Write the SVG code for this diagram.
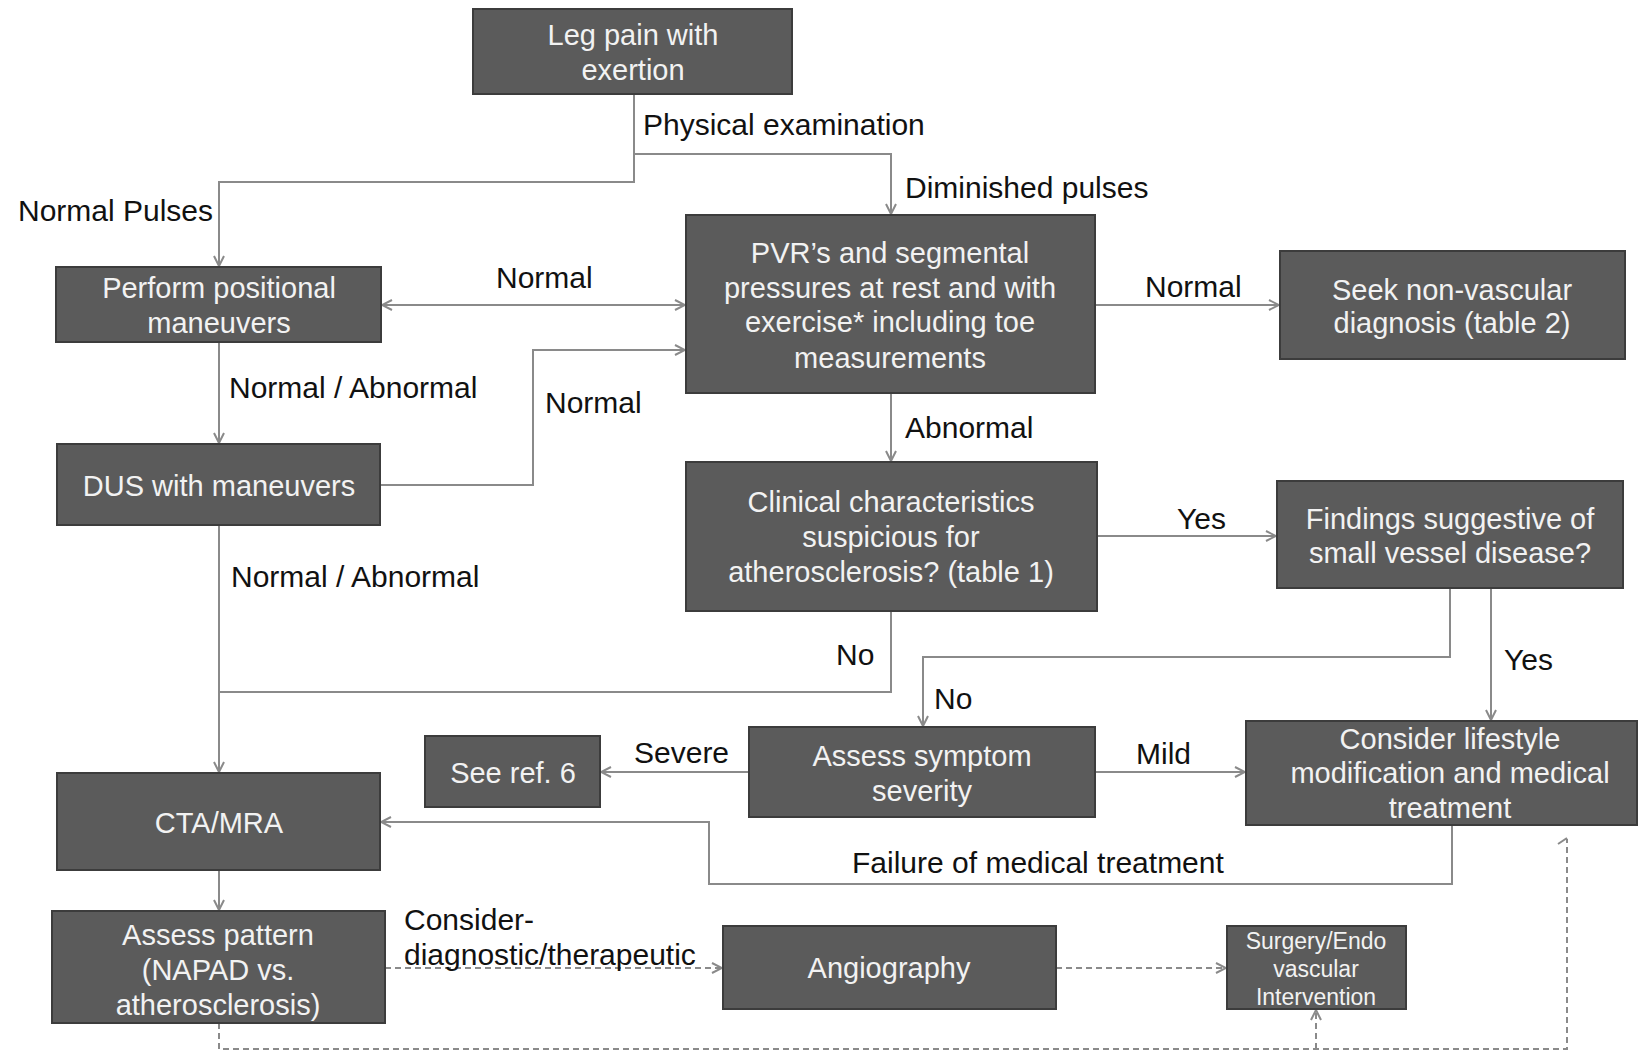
<svg xmlns="http://www.w3.org/2000/svg" width="1640" height="1051" viewBox="0 0 1640 1051">
<style>
.box{fill:#5b5b5b;stroke:#3c3c3c;stroke-width:2}
.bt{font-family:"Liberation Sans",Arial,sans-serif;font-size:29px;fill:#f2f2f2;text-anchor:middle}
.sm{font-size:23px}
.lb{font-family:"Liberation Sans",Arial,sans-serif;font-size:30px;fill:#111}
.c{fill:none;stroke:#8a8a8a;stroke-width:2}
.d{stroke-dasharray:6,4}
</style>
<defs>
<marker id="ah" viewBox="0 0 12 12" refX="11" refY="6" markerWidth="12" markerHeight="12" markerUnits="userSpaceOnUse" orient="auto-start-reverse">
<path d="M1,1 L11,6 L1,11" fill="none" stroke="#8a8a8a" stroke-width="2"/>
</marker>
</defs>
<rect width="1640" height="1051" fill="#fff"/>
<g id="connectors">
<path class="c" d="M634,94 V182 H219 V266" marker-end="url(#ah)"/>
<path class="c" d="M634,154 H891 V214" marker-end="url(#ah)"/>
<path class="c" d="M382,305 H685" marker-start="url(#ah)" marker-end="url(#ah)"/>
<path class="c" d="M219,342 V443" marker-end="url(#ah)"/>
<path class="c" d="M380,485 H533 V350 H685" marker-end="url(#ah)"/>
<path class="c" d="M1095,305 H1279" marker-end="url(#ah)"/>
<path class="c" d="M891,393 V461" marker-end="url(#ah)"/>
<path class="c" d="M1097,536 H1276" marker-end="url(#ah)"/>
<path class="c" d="M891,611 V692 H219"/>
<path class="c" d="M219,525 V772" marker-end="url(#ah)"/>
<path class="c" d="M1450,588 V657 H923 V726" marker-end="url(#ah)"/>
<path class="c" d="M1491,588 V720" marker-end="url(#ah)"/>
<path class="c" d="M749,772 H601" marker-end="url(#ah)"/>
<path class="c" d="M1095,772 H1245" marker-end="url(#ah)"/>
<path class="c" d="M1452,825 V884 H709 V822 H381" marker-end="url(#ah)"/>
<path class="c" d="M219,870 V910" marker-end="url(#ah)"/>
<path class="c d" d="M385,968 H722" marker-end="url(#ah)"/>
<path class="c d" d="M1056,968 H1226" marker-end="url(#ah)"/>
<path class="c d" d="M219,1023 V1049 H1567 V839"/>
<path class="c" d="M1558,844 L1567,838"/>
<path class="c d" d="M1316,1049 V1010" marker-end="url(#ah)"/>
</g>
<g id="n-legpain"><rect class="box" x="473" y="9" width="319" height="85"/><text class="bt" x="633" y="45">Leg pain with</text><text class="bt" x="633" y="80">exertion</text></g>
<g id="n-pvr"><rect class="box" x="686" y="215" width="409" height="178"/><text class="bt" x="890" y="263">PVR’s and segmental</text><text class="bt" x="890" y="298">pressures at rest and with</text><text class="bt" x="890" y="332">exercise* including toe</text><text class="bt" x="890" y="368">measurements</text></g>
<g id="n-perform"><rect class="box" x="56" y="267" width="325" height="75"/><text class="bt" x="219" y="298">Perform positional</text><text class="bt" x="219" y="333">maneuvers</text></g>
<g id="n-seek"><rect class="box" x="1280" y="251" width="345" height="108"/><text class="bt" x="1452" y="300">Seek non-vascular</text><text class="bt" x="1452" y="333">diagnosis (table 2)</text></g>
<g id="n-dus"><rect class="box" x="57" y="444" width="323" height="81"/><text class="bt" x="219" y="496">DUS with maneuvers</text></g>
<g id="n-clinical"><rect class="box" x="686" y="462" width="411" height="149"/><text class="bt" x="891" y="512">Clinical characteristics</text><text class="bt" x="891" y="547">suspicious for</text><text class="bt" x="891" y="582">atherosclerosis? (table 1)</text></g>
<g id="n-findings"><rect class="box" x="1277" y="481" width="346" height="107"/><text class="bt" x="1450" y="529">Findings suggestive of</text><text class="bt" x="1450" y="563">small vessel disease?</text></g>
<g id="n-severity"><rect class="box" x="749" y="727" width="346" height="90"/><text class="bt" x="922" y="766">Assess symptom</text><text class="bt" x="922" y="801">severity</text></g>
<g id="n-ref6"><rect class="box" x="425" y="736" width="175" height="71"/><text class="bt" x="513" y="783">See ref. 6</text></g>
<g id="n-consider"><rect class="box" x="1246" y="721" width="391" height="104"/><text class="bt" x="1450" y="749">Consider lifestyle</text><text class="bt" x="1450" y="783">modification and medical</text><text class="bt" x="1450" y="818">treatment</text></g>
<g id="n-cta"><rect class="box" x="57" y="773" width="323" height="97"/><text class="bt" x="219" y="833">CTA/MRA</text></g>
<g id="n-pattern"><rect class="box" x="52" y="911" width="333" height="112"/><text class="bt" x="218" y="945">Assess pattern</text><text class="bt" x="218" y="980">(NAPAD vs.</text><text class="bt" x="218" y="1015">atherosclerosis)</text></g>
<g id="n-angio"><rect class="box" x="723" y="926" width="333" height="83"/><text class="bt" x="889" y="978">Angiography</text></g>
<g id="n-surgery"><rect class="box" x="1227" y="926" width="179" height="83"/><text class="bt sm" x="1316" y="949">Surgery/Endo</text><text class="bt sm" x="1316" y="977">vascular</text><text class="bt sm" x="1316" y="1005">Intervention</text></g>
<g id="labels">
<text class="lb" x="643" y="135">Physical examination</text>
<text class="lb" x="905" y="198">Diminished pulses</text>
<text class="lb" x="18" y="221">Normal Pulses</text>
<text class="lb" x="496" y="288">Normal</text>
<text class="lb" x="1145" y="297">Normal</text>
<text class="lb" x="229" y="398">Normal / Abnormal</text>
<text class="lb" x="545" y="413">Normal</text>
<text class="lb" x="905" y="438">Abnormal</text>
<text class="lb" x="1177" y="529">Yes</text>
<text class="lb" x="231" y="587">Normal / Abnormal</text>
<text class="lb" x="836" y="665">No</text>
<text class="lb" x="1504" y="670">Yes</text>
<text class="lb" x="934" y="709">No</text>
<text class="lb" x="634" y="763">Severe</text>
<text class="lb" x="1136" y="764">Mild</text>
<text class="lb" x="852" y="873">Failure of medical treatment</text>
<text class="lb" x="404" y="930">Consider-</text>
<text class="lb" x="404" y="965">diagnostic/therapeutic</text>
</g>
</svg>
